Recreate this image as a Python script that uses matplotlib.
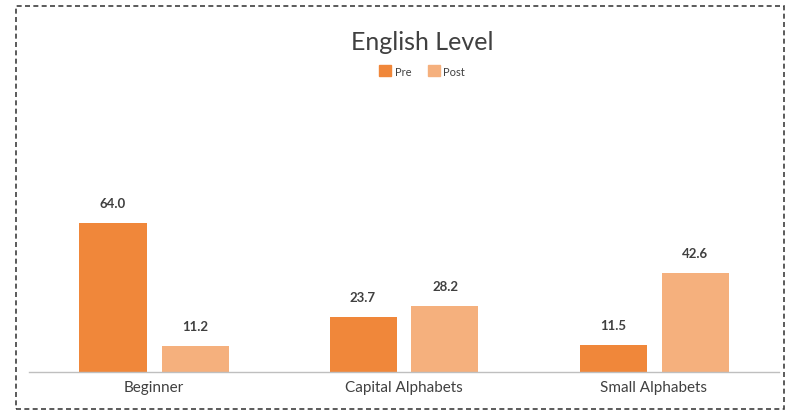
import matplotlib
matplotlib.use("Agg")
import matplotlib.pyplot as plt
from matplotlib.patches import Rectangle, Patch
import numpy as np

categories = ["Beginner", "Capital Alphabets", "Small Alphabets"]
pre = [64.0, 23.7, 11.5]
post = [11.2, 28.2, 42.6]
series_names = ["Pre", "Post"]

W, H = 788, 414
fig = plt.figure(figsize=(W / 100, H / 100), dpi=100)
plt.rcParams['font.family'] = ['Lato', 'DejaVu Sans']

# axes: x from 29 to 779 px, baseline y=373, top at ylim 70
left, right = 29, 779
base = 373
ymax = 70
ppu = 2.33
top = base - ymax * ppu
ax = fig.add_axes([left / W, 1 - base / H, (right - left) / W, (base - top) / H])

pre_c = "#F0873A"
post_c = "#F5B07D"
x = np.arange(len(categories))
bw = 67 / 250
gap = 15 / 250
b1 = ax.bar(x - (bw + gap) / 2, pre, bw, color=pre_c, label=series_names[0])
b2 = ax.bar(x + (bw + gap) / 2, post, bw, color=post_c, label=series_names[1])

for bars, vals in ((b1, pre), (b2, post)):
    for b, v in zip(bars, vals):
        ax.annotate(f"{v:.1f}", (b.get_x() + b.get_width() / 2, v),
                    xytext=(0, 10), textcoords="offset points",
                    ha="center", va="bottom", fontsize=9.5, fontweight="bold",
                    color="#404040")

ax.set_xlim(-0.5, 2.5)
ax.set_ylim(0, ymax)
ax.set_xticks(x)
ax.set_xticklabels(categories, fontsize=11, color="#404040")
ax.tick_params(axis="x", length=0, pad=6)
ax.set_yticks([])
for s in ("top", "right", "left"):
    ax.spines[s].set_visible(False)
ax.spines["bottom"].set_color("#BFBFBF")
ax.spines["bottom"].set_linewidth(1.0)
ax.patch.set_alpha(0)

fig.text(422 / W, 1 - 42 / H, "English Level", ha="center", va="center",
         fontsize=18, color="#404040")

handles = [Patch(color=pre_c), Patch(color=post_c)]
fig.legend(handles, series_names, loc="center", bbox_to_anchor=(422 / W, 1 - 72 / H),
           ncol=2, frameon=False, fontsize=8, handlelength=1.1, handleheight=1.1,
           handletextpad=0.3, columnspacing=1.5, labelcolor="#404040")

fig.patches.append(Rectangle((16 / W, 1 - 410 / H), (784 - 16) / W, (410 - 7) / H,
                             transform=fig.transFigure, fill=False,
                             edgecolor="#404040", linestyle=(0, (3, 2)), linewidth=1.2))

fig.savefig("out.png", dpi=100)
